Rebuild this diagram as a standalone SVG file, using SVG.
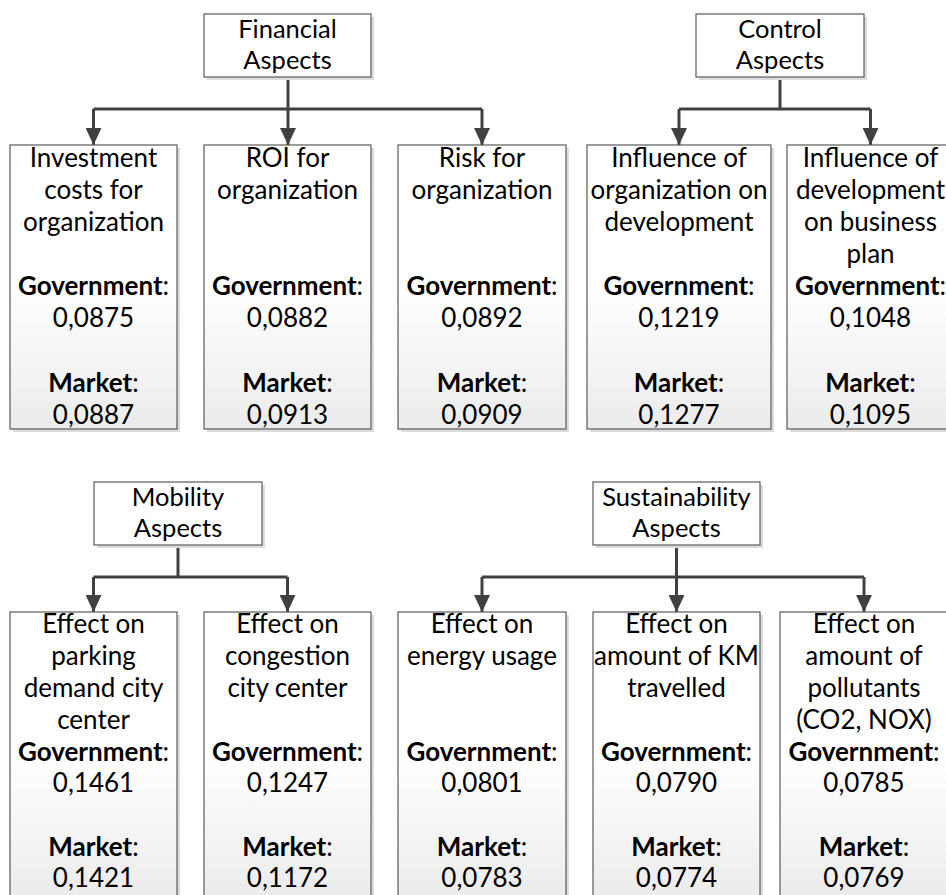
<svg xmlns="http://www.w3.org/2000/svg" width="946" height="895" viewBox="0 0 946 895">
<defs>
  <linearGradient id="boxGrad" x1="0" y1="0" x2="0" y2="1">
    <stop offset="0" stop-color="#ffffff"/>
    <stop offset="0.5" stop-color="#ffffff"/>
    <stop offset="1" stop-color="#ebebeb"/>
  </linearGradient>
  <marker id="arrow" markerWidth="17" markerHeight="16" refX="17" refY="8" orient="auto" markerUnits="userSpaceOnUse" viewBox="0 0 17 16">
    <path d="M0,0 L17,8 L0,16 Z" fill="#404040"/>
  </marker>
</defs>
<style>
  .shadow { fill: #dcdcdc; }
  .box { fill: url(#boxGrad); stroke: #5a5a5a; stroke-width: 1.2; }
  .hdr { fill: #ffffff; stroke: #5a5a5a; stroke-width: 1.2; }
  .conn { fill: none; stroke: #404040; stroke-width: 3; }
  text { font-family: Lato, "Liberation Sans", sans-serif; font-size: 26px; fill: #000000; text-anchor: middle; }
  .h text { font-size: 25.5px; }
  .b { font-weight: bold; }
</style>
<rect width="946" height="895" fill="#ffffff"/>

<g id="connectors">
  <path class="conn" d="M288,77 V109"/>
  <path class="conn" d="M93.5,109 H482"/>
  <path class="conn" d="M93.5,109 V145" marker-end="url(#arrow)"/>
  <path class="conn" d="M288,109 V145" marker-end="url(#arrow)"/>
  <path class="conn" d="M482,109 V145" marker-end="url(#arrow)"/>
  <path class="conn" d="M780,77 V109"/>
  <path class="conn" d="M679,109 H870.5"/>
  <path class="conn" d="M679,109 V145" marker-end="url(#arrow)"/>
  <path class="conn" d="M870.5,109 V145" marker-end="url(#arrow)"/>
  <path class="conn" d="M178,545 V577"/>
  <path class="conn" d="M93.5,577 H287.5"/>
  <path class="conn" d="M93.5,577 V612" marker-end="url(#arrow)"/>
  <path class="conn" d="M287.5,577 V612" marker-end="url(#arrow)"/>
  <path class="conn" d="M676.5,545 V577"/>
  <path class="conn" d="M482,577 H864"/>
  <path class="conn" d="M482,577 V612" marker-end="url(#arrow)"/>
  <path class="conn" d="M676.5,577 V612" marker-end="url(#arrow)"/>
  <path class="conn" d="M864,577 V612" marker-end="url(#arrow)"/>
</g>

<!-- Headers -->
<g id="financial" class="h">
  <rect class="shadow" x="207" y="17" width="167" height="63"/>
  <rect class="hdr" x="204" y="14" width="167" height="63"/>
  <text x="287.5" y="38">Financial</text>
  <text x="287.5" y="69">Aspects</text>
</g>
<g id="control" class="h">
  <rect class="shadow" x="699" y="17" width="168" height="63"/>
  <rect class="hdr" x="696" y="14" width="168" height="63"/>
  <text x="780" y="38">Control</text>
  <text x="780" y="69">Aspects</text>
</g>
<g id="mobility" class="h">
  <rect class="shadow" x="97" y="485" width="168" height="63"/>
  <rect class="hdr" x="94" y="482" width="168" height="63"/>
  <text x="178" y="506">Mobility</text>
  <text x="178" y="537">Aspects</text>
</g>
<g id="sustainability" class="h">
  <rect class="shadow" x="596" y="485" width="167" height="63"/>
  <rect class="hdr" x="593" y="482" width="167" height="63"/>
  <text x="676.5" y="506">Sustainability</text>
  <text x="676.5" y="537">Aspects</text>
</g>

<!-- Row 1 -->
<g id="investment">
  <rect class="shadow" x="13" y="148" width="167" height="284"/>
  <rect class="box" x="10" y="145" width="167" height="284"/>
  <text x="93.5" y="167">Investment</text>
  <text x="93.5" y="199">costs for</text>
  <text x="93.5" y="231">organization</text>
  <text x="93.5" y="295"><tspan class="b">Government</tspan>:</text>
  <text x="93.5" y="327">0,0875</text>
  <text x="93.5" y="392"><tspan class="b">Market</tspan>:</text>
  <text x="93.5" y="424">0,0887</text>
</g>
<g id="roi">
  <rect class="shadow" x="207" y="148" width="167" height="284"/>
  <rect class="box" x="204" y="145" width="167" height="284"/>
  <text x="287.5" y="167">ROI for</text>
  <text x="287.5" y="199">organization</text>
  <text x="287.5" y="295"><tspan class="b">Government</tspan>:</text>
  <text x="287.5" y="327">0,0882</text>
  <text x="287.5" y="392"><tspan class="b">Market</tspan>:</text>
  <text x="287.5" y="424">0,0913</text>
</g>
<g id="risk">
  <rect class="shadow" x="401" y="148" width="168" height="284"/>
  <rect class="box" x="398" y="145" width="168" height="284"/>
  <text x="482" y="167">Risk for</text>
  <text x="482" y="199">organization</text>
  <text x="482" y="295"><tspan class="b">Government</tspan>:</text>
  <text x="482" y="327">0,0892</text>
  <text x="482" y="392"><tspan class="b">Market</tspan>:</text>
  <text x="482" y="424">0,0909</text>
</g>
<g id="influence-org">
  <rect class="shadow" x="590" y="148" width="184" height="284"/>
  <rect class="box" x="587" y="145" width="184" height="284"/>
  <text x="679" y="167">Influence of</text>
  <text x="679" y="199">organization on</text>
  <text x="679" y="231">development</text>
  <text x="679" y="295"><tspan class="b">Government</tspan>:</text>
  <text x="679" y="327">0,1219</text>
  <text x="679" y="392"><tspan class="b">Market</tspan>:</text>
  <text x="679" y="424">0,1277</text>
</g>
<g id="influence-dev">
  <rect class="shadow" x="790" y="148" width="167" height="284"/>
  <rect class="box" x="787" y="145" width="167" height="284"/>
  <text x="870.5" y="167">Influence of</text>
  <text x="870.5" y="199">development</text>
  <text x="870.5" y="231">on business</text>
  <text x="870.5" y="263">plan</text>
  <text x="870.5" y="295"><tspan class="b">Government</tspan>:</text>
  <text x="870.5" y="327">0,1048</text>
  <text x="870.5" y="392"><tspan class="b">Market</tspan>:</text>
  <text x="870.5" y="424">0,1095</text>
</g>

<!-- Row 2 -->
<g id="parking">
  <rect class="shadow" x="13" y="615" width="167" height="290"/>
  <rect class="box" x="10" y="612" width="167" height="290"/>
  <text x="93.5" y="633">Effect on</text>
  <text x="93.5" y="665">parking</text>
  <text x="93.5" y="697">demand city</text>
  <text x="93.5" y="729">center</text>
  <text x="93.5" y="761"><tspan class="b">Government</tspan>:</text>
  <text x="93.5" y="792">0,1461</text>
  <text x="93.5" y="856"><tspan class="b">Market</tspan>:</text>
  <text x="93.5" y="887">0,1421</text>
</g>
<g id="congestion">
  <rect class="shadow" x="207" y="615" width="167" height="290"/>
  <rect class="box" x="204" y="612" width="167" height="290"/>
  <text x="287.5" y="633">Effect on</text>
  <text x="287.5" y="665">congestion</text>
  <text x="287.5" y="697">city center</text>
  <text x="287.5" y="761"><tspan class="b">Government</tspan>:</text>
  <text x="287.5" y="792">0,1247</text>
  <text x="287.5" y="856"><tspan class="b">Market</tspan>:</text>
  <text x="287.5" y="887">0,1172</text>
</g>
<g id="energy">
  <rect class="shadow" x="401" y="615" width="168" height="290"/>
  <rect class="box" x="398" y="612" width="168" height="290"/>
  <text x="482" y="633">Effect on</text>
  <text x="482" y="665">energy usage</text>
  <text x="482" y="761"><tspan class="b">Government</tspan>:</text>
  <text x="482" y="792">0,0801</text>
  <text x="482" y="856"><tspan class="b">Market</tspan>:</text>
  <text x="482" y="887">0,0783</text>
</g>
<g id="km">
  <rect class="shadow" x="596" y="615" width="167" height="290"/>
  <rect class="box" x="593" y="612" width="167" height="290"/>
  <text x="676.5" y="633">Effect on</text>
  <text x="676.5" y="665">amount of KM</text>
  <text x="676.5" y="697">travelled</text>
  <text x="676.5" y="761"><tspan class="b">Government</tspan>:</text>
  <text x="676.5" y="792">0,0790</text>
  <text x="676.5" y="856"><tspan class="b">Market</tspan>:</text>
  <text x="676.5" y="887">0,0774</text>
</g>
<g id="pollutants">
  <rect class="shadow" x="783" y="615" width="168" height="290"/>
  <rect class="box" x="780" y="612" width="168" height="290"/>
  <text x="864" y="633">Effect on</text>
  <text x="864" y="665">amount of</text>
  <text x="864" y="697">pollutants</text>
  <text x="864" y="729">(CO2, NOX)</text>
  <text x="864" y="761"><tspan class="b">Government</tspan>:</text>
  <text x="864" y="792">0,0785</text>
  <text x="864" y="856"><tspan class="b">Market</tspan>:</text>
  <text x="864" y="887">0,0769</text>
</g>
</svg>
